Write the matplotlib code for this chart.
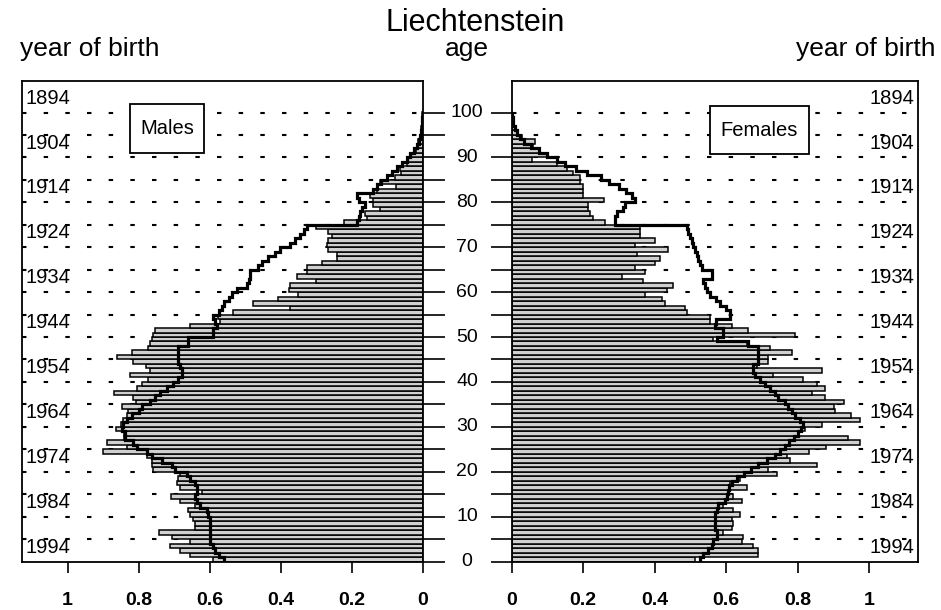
import numpy as np
import matplotlib
matplotlib.use("Agg")
import matplotlib.pyplot as plt
from matplotlib.patches import Rectangle
from matplotlib.transforms import blended_transform_factory

plt.rcParams["font.family"] = ["Liberation Sans", "DejaVu Sans"]
plt.rcParams["lines.scale_dashes"] = False

# ---- data: share of population by single year of age (0..99) ----
ages = np.arange(100)

male_bars = [
    0.59, 0.655, 0.684, 0.712, 0.655, 0.707, 0.742, 0.641, 0.641, 0.646,
    0.655, 0.66, 0.641, 0.684, 0.71, 0.623, 0.684, 0.693, 0.688, 0.684,
    0.759, 0.763, 0.763, 0.777, 0.90, 0.834, 0.89, 0.841, 0.841, 0.864,
    0.85, 0.845, 0.832, 0.829, 0.848, 0.808, 0.817, 0.87, 0.804, 0.79,
    0.773, 0.823, 0.768, 0.779, 0.815, 0.86, 0.82, 0.773, 0.768, 0.763,
    0.759, 0.754, 0.655, 0.57, 0.576, 0.535, 0.374, 0.479, 0.407, 0.35,
    0.376, 0.374, 0.30, 0.353, 0.327, 0.327, 0.285, 0.242, 0.242, 0.266,
    0.269, 0.266, 0.256, 0.266, 0.30, 0.223, 0.158, 0.162, 0.12, 0.139,
    0.141, 0.148, 0.13, 0.075, 0.12, 0.078, 0.06, 0.065, 0.045, 0.042,
    0.035, 0.02, 0.017, 0.012, 0.008, 0.005, 0.004, 0.002, 0.001, 0.001,
]

male_line = [
    0.56, 0.575, 0.585, 0.59, 0.60, 0.60, 0.60, 0.60, 0.60, 0.60,
    0.604, 0.608, 0.627, 0.637, 0.641, 0.637, 0.637, 0.641, 0.655, 0.665,
    0.698, 0.707, 0.735, 0.763, 0.777, 0.806, 0.815, 0.838, 0.838, 0.848,
    0.845, 0.834, 0.82, 0.80, 0.792, 0.768, 0.754, 0.74, 0.721, 0.702,
    0.688, 0.679, 0.679, 0.684, 0.688, 0.688, 0.688, 0.688, 0.66, 0.66,
    0.59, 0.59, 0.58, 0.585, 0.59, 0.575, 0.565, 0.56, 0.545, 0.538,
    0.524, 0.496, 0.49, 0.486, 0.486, 0.463, 0.453, 0.435, 0.416, 0.402,
    0.374, 0.36, 0.345, 0.335, 0.327, 0.186, 0.18, 0.177, 0.172, 0.163,
    0.18, 0.186, 0.139, 0.13, 0.118, 0.10, 0.087, 0.073, 0.059, 0.045,
    0.036, 0.024, 0.017, 0.011, 0.007, 0.005, 0.003, 0.002, 0.001, 0.0005,
]

female_bars = [
    0.513, 0.69, 0.69, 0.676, 0.643, 0.648, 0.59, 0.615, 0.62, 0.615,
    0.639, 0.62, 0.592, 0.643, 0.62, 0.606, 0.657, 0.611, 0.639, 0.741,
    0.717, 0.853, 0.778, 0.769, 0.83, 0.88, 0.974, 0.94, 0.80, 0.82,
    0.867, 0.974, 0.95, 0.904, 0.90, 0.928, 0.876, 0.84, 0.876, 0.853,
    0.815, 0.732, 0.867, 0.685, 0.717, 0.717, 0.783, 0.722, 0.657, 0.564,
    0.792, 0.662, 0.615, 0.555, 0.555, 0.49, 0.485, 0.43, 0.42, 0.373,
    0.434, 0.452, 0.368, 0.308, 0.373, 0.345, 0.40, 0.415, 0.35, 0.438,
    0.345, 0.40, 0.36, 0.36, 0.36, 0.261, 0.228, 0.219, 0.214, 0.214,
    0.258, 0.20, 0.20, 0.20, 0.19, 0.19, 0.172, 0.154, 0.126, 0.056,
    0.10, 0.075, 0.06, 0.065, 0.03, 0.015, 0.008, 0.004, 0.002, 0.001,
]

female_line = [
    0.527, 0.536, 0.55, 0.559, 0.564, 0.573, 0.573, 0.569, 0.569, 0.569,
    0.569, 0.573, 0.578, 0.597, 0.602, 0.606, 0.609, 0.615, 0.63, 0.65,
    0.67, 0.69, 0.715, 0.735, 0.75, 0.765, 0.775, 0.788, 0.80, 0.81,
    0.815, 0.806, 0.792, 0.783, 0.774, 0.764, 0.746, 0.736, 0.722, 0.708,
    0.694, 0.68, 0.676, 0.676, 0.69, 0.69, 0.69, 0.69, 0.66, 0.575,
    0.592, 0.592, 0.568, 0.57, 0.61, 0.61, 0.60, 0.583, 0.57, 0.555,
    0.545, 0.54, 0.535, 0.56, 0.56, 0.531, 0.527, 0.522, 0.517, 0.513,
    0.508, 0.503, 0.499, 0.494, 0.49, 0.289, 0.289, 0.295, 0.31, 0.318,
    0.346, 0.337, 0.32, 0.30, 0.272, 0.25, 0.21, 0.18, 0.15, 0.128,
    0.10, 0.075, 0.055, 0.035, 0.022, 0.014, 0.009, 0.005, 0.003, 0.001,
]

age_labels = list(range(0, 101, 10))
share_ticks = [0, 0.2, 0.4, 0.6, 0.8, 1]
share_labels = ["0", "0.2", "0.4", "0.6", "0.8", "1"]
birth_years = [1894, 1904, 1914, 1924, 1934, 1944, 1954, 1964, 1974, 1984, 1994]
label_ref_year = 1997.2   # a birth-year label sits at age (label_ref_year - year)

# ---- layout (pixels of a 941 x 610 canvas) ----
W, H = 941, 610
fig = plt.figure(figsize=(W / 100, H / 100), dpi=100)

px_per_year = 4.49
y0 = 561.5                     # pixel row of age 0
age_top = 107.0
ax_h = age_top * px_per_year

ax_l = fig.add_axes([21.5 / W, (H - y0) / H, 401.2 / W, ax_h / H])
ax_r = fig.add_axes([511.7 / W, (H - y0) / H, 405.9 / W, ax_h / H])

bar_face = "#d0d0d0"
edges = np.arange(101)

for ax, bars, line in ((ax_l, male_bars, male_line), (ax_r, female_bars, female_line)):
    ax.set_ylim(0, age_top)
    for a in range(5, 101, 5):
        ax.axhline(a, color="black", lw=1.5, dashes=(3.2, 12.4), zorder=0)
    ax.barh(ages, bars, height=1.0, align="edge", color=bar_face,
            edgecolor="black", linewidth=1.1, zorder=2)
    ax.stairs(line, edges, orientation="horizontal", baseline=None,
              color="black", lw=2.3, zorder=3)
    for s in ax.spines.values():
        s.set_linewidth(1.3)
    ax.set_xticks(share_ticks)
    ax.set_xticklabels(share_labels, fontsize=14, fontweight="bold")
    ax.tick_params(axis="x", direction="out", length=8, width=1.2, pad=14)
    ax.set_yticks(range(0, 101, 5))
    ax.set_yticklabels([])

ax_l.set_xlim(1.13, 0)
ax_r.set_xlim(0, 1.135)

ax_l.yaxis.tick_right()
ax_l.tick_params(axis="y", direction="out", length=16, width=1.2,
                 right=True, left=False, labelright=False)
ax_r.yaxis.tick_left()
ax_r.tick_params(axis="y", direction="out", length=15, width=1.2,
                 left=True, right=False, labelleft=False)

# birth-year labels inside each panel
for yr in birth_years:
    ax_l.text(0.011, label_ref_year - yr, str(yr), transform=ax_l.get_yaxis_transform(),
              ha="left", va="center", fontsize=14.5)
    ax_r.text(0.992, label_ref_year - yr, str(yr), transform=ax_r.get_yaxis_transform(),
              ha="right", va="center", fontsize=14.5)

# age labels between the panels
mid = blended_transform_factory(fig.transFigure, ax_l.transData)
for a in age_labels:
    fig.text(467 / W, a, str(a), transform=mid, ha="center", va="center", fontsize=14)

# headings
fig.text(475 / W, 1 - 31 / H, "Liechtenstein", ha="center", va="baseline", fontsize=22)
fig.text(20 / W, 1 - 56 / H, "year of birth", ha="left", va="baseline", fontsize=19)
fig.text(467 / W, 1 - 56 / H, "age", ha="center", va="baseline", fontsize=19)
fig.text(935 / W, 1 - 56 / H, "year of birth", ha="right", va="baseline", fontsize=19)

# sex labels in framed boxes
for (x0, y_top, bw, bh, name) in ((130, 104, 74, 49, "Males"), (710, 106, 99, 48, "Females")):
    fig.patches.append(Rectangle((x0 / W, 1 - (y_top + bh) / H), bw / W, bh / H,
                                 transform=fig.transFigure, facecolor="white",
                                 edgecolor="black", lw=1.3, zorder=5))
    fig.text((x0 + bw / 2) / W, 1 - (y_top + bh / 2) / H, name, ha="center",
             va="center", fontsize=14.5, zorder=6)

fig.savefig("out.png", dpi=100)
